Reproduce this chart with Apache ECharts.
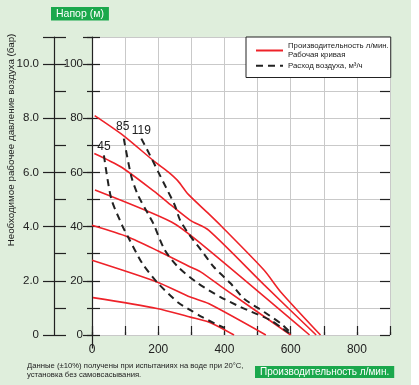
<!DOCTYPE html>
<html><head><meta charset="utf-8">
<script src="https://cdn.jsdelivr.net/npm/echarts@6/dist/echarts.min.js"></script>
<style>html,body{margin:0;padding:0;background:#fff;} #c{width:411px;height:385px;}</style>
</head><body><div id="c"></div>
<script>
// ---- data (flow l/min, head m) ----
const pumpCurve1 = [[8,81],[93,73.8],[190,63.9],[230,60.2],[260,56.8],[291,51.9],[352,44.8],[388,40.5],[520,23.9],[570,15.9],[690,0]];
const pumpCurve2 = [[7,67],[88,62],[190,52.8],[221,49.7],[296,42.4],[352,38.7],[520,18.5],[677,0]];
const pumpCurve3 = [[9,53.5],[240,41.7],[328,33.8],[657,0]];
const pumpCurve4 = [[0,40.5],[109,36.2],[200,31],[297,25.1],[328,23.3],[399,17.1],[600,0]];
const pumpCurve5 = [[0,27.6],[196,19.6],[297,14],[352,11.6],[525,0]];
const pumpCurve6 = [[3,13.8],[196,9.8],[297,6.6],[352,4.8],[429,0]];
const air45  = [[36,66.3],[58,50.4],[91,40.5],[109,36.2],[152,26.4],[200,19],[260,12],[300,9],[330,6.8],[370,4.3],[400,2.6]];
const air85  = [[96,72.5],[119,58.4],[139,51.6],[169,44.8],[185,41.2],[220,31.3],[260,25.1],[321,19],[388,14],[449,10.3],[540,5.4],[576,2.4],[598,0.5]];
const air119 = [[149,72.5],[175,66.4],[200,60.2],[225,54.1],[250,47.9],[266,42.4],[291,37.5],[330,31.3],[368,25.1],[419,19],[459,13.4],[520,8.5],[571,4.2],[604,0.3]];
const airLabels = ['45','85','119'];
const xTickLabels = [0,200,400,600,800];
const mTickLabels = [0,20,40,60,80,100];
const barTickValues = [0,2,4,6,8,10];
const barTickLabels = ['0','2.0','4.0','6.0','8.0','10.0'];
const RED_NAME = 'Производительность л/мин.\nРабочая кривая';
const AIR_NAME = 'Расход воздуха, м³/ч';

const FONT = '"Liberation Sans",Arial,sans-serif';
const RED = '#ee2229', INK = '#222', GRIDC = '#c9c9c9', GREEN = '#1aa84c';

const chart = echarts.init(document.getElementById('c'), null, {renderer:'canvas'});

function redSeries(d){ return {type:'line', name:RED_NAME, data:d, smooth:0.25, symbol:'none', xAxisIndex:0, yAxisIndex:0,
  lineStyle:{color:RED, width:1.6}, itemStyle:{color:RED}, z:3}; }
function airSeries(d, lbl, dist, off){ return {type:'line', name:AIR_NAME, data:d, smooth:0.25, symbol:'none', xAxisIndex:0, yAxisIndex:0,
  lineStyle:{color:INK, width:2, type:[7,5]}, itemStyle:{color:INK}, z:4,
  markPoint:{symbol:'circle', symbolSize:1, itemStyle:{color:'rgba(0,0,0,0)'}, silent:true,
    label:{show:true, position:'top', distance:dist, offset:off, formatter:lbl, color:INK, fontSize:12, fontFamily:FONT},
    data:[{coord:d[0]}]}}; }

const common = {min:0, max:110, interval:10};
const option = {
  animation:false,
  backgroundColor:'#dfeedc',
  textStyle:{fontFamily:FONT},
  title:[
    {text:'Напор (м)', left:51, top:7, backgroundColor:GREEN, padding:[1,5,1,5],
     textStyle:{color:'#fff', fontSize:10.5, lineHeight:11.5, fontWeight:'normal', fontFamily:FONT}},
    {text:'Производительность л/мин.', left:255, top:366, backgroundColor:GREEN, padding:[1,5,0,5],
     textStyle:{color:'#fff', fontSize:10, lineHeight:11, fontWeight:'normal', fontFamily:FONT}},
    {text:'Данные (±10%) получены при испытаниях на воде при 20°C,\nустановка без самовсасывания.', left:27, top:361, padding:0,
     textStyle:{color:INK, fontSize:7.7, lineHeight:9.5, fontWeight:'normal', fontFamily:FONT}}
  ],
  graphic:[{type:'text', x:11, y:140, rotation:Math.PI/2,
    style:{text:'Необходимое рабочее давление воздуха (бар)', fill:INK, font:'9.8px '+FONT, textAlign:'center', textVerticalAlign:'middle'}}],
  legend:{orient:'vertical', left:246, top:37, itemWidth:27, itemHeight:10, itemGap:1, padding:[4,2,7,9],
    backgroundColor:'#fff', borderColor:INK, borderWidth:1, selectedMode:false,
    itemStyle:{opacity:0, color:'rgba(0,0,0,0)', borderWidth:0},
    textStyle:{fontSize:7.8, lineHeight:9.5, color:INK, fontFamily:FONT}, data:[RED_NAME, AIR_NAME]},
  grid:[
    {left:92, right:21, top:37, bottom:50, show:true, backgroundColor:'#fff', borderWidth:0},
    {left:92, right:21, top:335, height:13, show:false}
  ],
  xAxis:[
    {gridIndex:0, type:'value', min:0, max:900, interval:100, axisLine:{show:false},
     axisTick:{inside:true, length:9, lineStyle:{color:INK, width:1.2}},
     axisLabel:{margin:9, color:INK, fontSize:12, formatter:v=>xTickLabels.includes(v)?String(v):''},
     splitLine:{show:true, lineStyle:{color:GRIDC}}},
    {gridIndex:0, type:'value', min:0, max:900, interval:100, axisLine:{show:false},
     axisTick:{inside:false, length:3, lineStyle:{color:INK, width:1.2}}, axisLabel:{show:false}, splitLine:{show:false}},
    {gridIndex:1, type:'value', min:0, max:900, show:false}
  ],
  yAxis:[
    Object.assign({gridIndex:0, type:'value', position:'left', offset:0, axisLine:{show:true, lineStyle:{color:INK, width:1.2}},
     axisTick:{inside:true, length:8, lineStyle:{color:INK, width:1.2}},
     axisLabel:{margin:9, color:INK, fontSize:11.5, formatter:v=>mTickLabels.includes(v)?String(v):''},
     splitLine:{show:true, lineStyle:{color:GRIDC}}}, common),
    Object.assign({gridIndex:0, type:'value', position:'left', offset:0, axisLine:{show:false},
     axisTick:{inside:false, length:5, lineStyle:{color:INK, width:1.2}}, axisLabel:{show:false}, splitLine:{show:false}}, common),
    {gridIndex:0, type:'value', position:'left', offset:0, min:0, max:110, interval:20, axisLine:{show:false},
     axisTick:{inside:false, length:9, lineStyle:{color:INK, width:1.2}}, axisLabel:{show:false}, splitLine:{show:false}},
    Object.assign({gridIndex:0, type:'value', position:'right', offset:0, axisLine:{show:true, lineStyle:{color:GRIDC}},
     axisTick:{inside:true, length:10, lineStyle:{color:INK, width:1.2}}, axisLabel:{show:false}, splitLine:{show:false}}, common),
    {gridIndex:0, type:'value', position:'left', offset:38, min:0, max:11, interval:1, axisLine:{show:true, lineStyle:{color:INK, width:1.2}},
     axisTick:{inside:true, length:12, lineStyle:{color:INK, width:1.2}},
     axisLabel:{margin:15, color:INK, fontSize:11.5, formatter:v=>{const i=barTickValues.indexOf(v); return i>=0?barTickLabels[i]:'';}},
     splitLine:{show:false}},
    {gridIndex:0, type:'value', position:'left', offset:38, min:0, max:11, interval:2, axisLine:{show:false},
     axisTick:{inside:false, length:11, lineStyle:{color:INK, width:1.2}}, axisLabel:{show:false}, splitLine:{show:false}},
    {gridIndex:1, type:'value', position:'left', offset:38, min:0, max:1, axisLine:{show:true, lineStyle:{color:INK, width:1.2}},
     axisTick:{show:false}, axisLabel:{show:false}, splitLine:{show:false}}
  ],
  series:[
    redSeries(pumpCurve1), redSeries(pumpCurve2), redSeries(pumpCurve3),
    redSeries(pumpCurve4), redSeries(pumpCurve5), redSeries(pumpCurve6),
    airSeries(air45, airLabels[0], 2, [0,0]),
    airSeries(air85, airLabels[1], 5, [-1,0]),
    airSeries(air119, airLabels[2], 1, [0,0])
  ]
};
chart.setOption(option);
</script></body></html>
